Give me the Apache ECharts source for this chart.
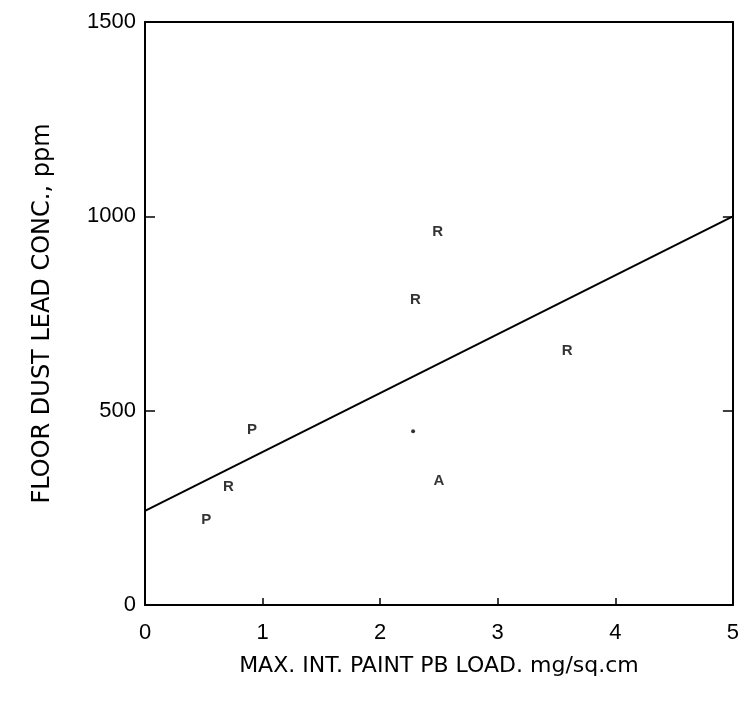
<!DOCTYPE html>
<html>
<head>
<meta charset="utf-8">
<script src="https://cdn.jsdelivr.net/npm/echarts@6/dist/echarts.min.js"></script>
<style>
  html, body { margin: 0; padding: 0; background: #fff; }
  #chart { width: 742px; height: 704px; }
</style>
</head>
<body>
<div id="chart"></div>
<script>
// Paint lead loading vs. floor dust lead concentration, one letter per site type
const xTicks = [0, 1, 2, 3, 4, 5];
const yTicks = [0, 500, 1000, 1500];
const pointsP = [[0.52, 218], [0.91, 450]];
const pointsR = [[0.71, 303], [2.30, 784], [2.49, 961], [3.59, 653]];
const pointsA = [[2.50, 319]];
const pointsDot = [[2.28, 447]];
// Fitted line, end points
const fitLine = [[0, 242], [5, 1000]];

const FONT = 'Liberation Sans';
const TITLE_FONT = 'DejaVu Sans';
const chart = echarts.init(document.getElementById('chart'));

function letterSeries(name, data, letter) {
  return {
    name: name,
    type: 'scatter',
    data: data,
    symbol: 'circle',
    symbolSize: 1,
    itemStyle: { color: 'rgba(0,0,0,0)' },
    label: {
      show: true,
      position: 'inside',
      formatter: letter,
      color: '#000',
      fontFamily: FONT,
      fontWeight: 'bold',
      fontSize: 15
    },
    z: 5
  };
}

const plain = v => String(v);

chart.setOption({
  backgroundColor: '#fff',
  animation: false,
  grid: { left: 145, right: 6, top: 22, bottom: 99 },
  xAxis: [{
    type: 'value',
    min: xTicks[0],
    max: xTicks[xTicks.length - 1],
    interval: 1,
    name: 'MAX. INT. PAINT PB LOAD. mg/sq.cm',
    nameLocation: 'middle',
    nameGap: 50,
    nameTextStyle: { fontFamily: TITLE_FONT, fontSize: 22, color: '#000' },
    axisLine: { onZero: false, lineStyle: { color: '#000', width: 2 } },
    axisTick: { inside: true, length: 7, lineStyle: { color: '#000', width: 1.5 } },
    axisLabel: { fontFamily: FONT, fontSize: 22, color: '#000', margin: 17, formatter: plain },
    splitLine: { show: false }
  }, {
    type: 'value',
    position: 'top',
    min: xTicks[0],
    max: xTicks[xTicks.length - 1],
    interval: 1,
    axisLine: { show: true, onZero: false, lineStyle: { color: '#000', width: 2 } },
    axisTick: { show: false },
    axisLabel: { show: false },
    splitLine: { show: false }
  }],
  yAxis: [{
    type: 'value',
    min: yTicks[0],
    max: yTicks[yTicks.length - 1],
    interval: 500,
    name: 'FLOOR DUST LEAD CONC., ppm',
    nameLocation: 'middle',
    nameGap: 90,
    nameTextStyle: { fontFamily: TITLE_FONT, fontSize: 24, color: '#000' },
    axisLine: { onZero: false, lineStyle: { color: '#000', width: 2 } },
    axisTick: { inside: true, length: 10, lineStyle: { color: '#000', width: 1.5 } },
    axisLabel: { fontFamily: FONT, fontSize: 22, color: '#000', margin: 9, formatter: plain },
    splitLine: { show: false }
  }, {
    type: 'value',
    position: 'right',
    min: yTicks[0],
    max: yTicks[yTicks.length - 1],
    interval: 500,
    axisLine: { show: true, onZero: false, lineStyle: { color: '#000', width: 2 } },
    axisTick: { show: true, inside: true, length: 10, lineStyle: { color: '#000', width: 1.5 } },
    axisLabel: { show: false },
    splitLine: { show: false }
  }],
  series: [
    {
      name: 'fit',
      type: 'line',
      data: fitLine,
      symbol: 'none',
      lineStyle: { color: '#000', width: 2 },
      z: 3
    },
    letterSeries('P', pointsP, 'P'),
    letterSeries('R', pointsR, 'R'),
    letterSeries('A', pointsA, 'A'),
    {
      name: 'dot',
      type: 'scatter',
      data: pointsDot,
      symbol: 'circle',
      symbolSize: 4,
      itemStyle: { color: '#000' },
      z: 5
    }
  ]
});
</script>
</body>
</html>
